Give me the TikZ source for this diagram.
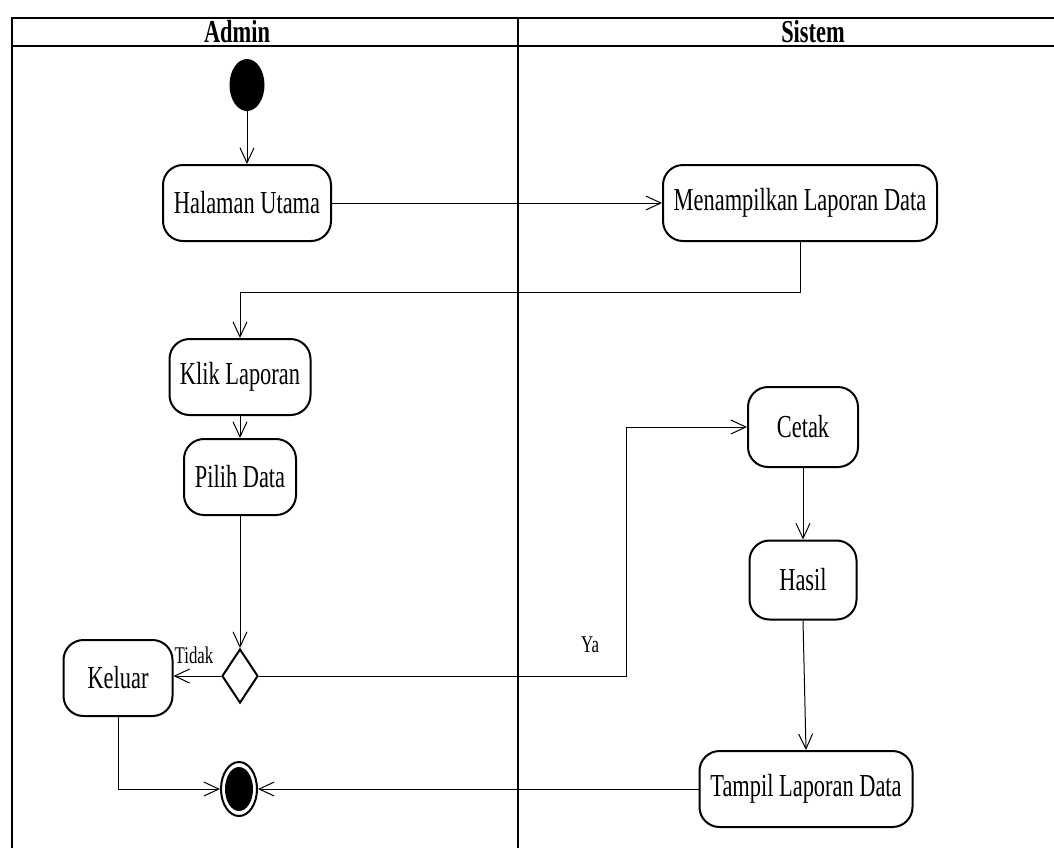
\documentclass[tikz,border=0pt]{standalone}
\usepackage{fontspec}
\setmainfont[FakeStretch=0.7]{Liberation Serif}
\usetikzlibrary{arrows.meta,shapes.geometric}
\tikzset{>={Straight Barb[length=7.5pt,width=7pt]},every node/.style={font=\fontsize{16}{19}\selectfont},act/.style={draw,line width=1pt,rounded corners=10pt,minimum height=38pt,inner xsep=3pt},flow/.style={->,line width=.5pt},lane/.style={line width=1pt},lbl/.style={font=\fontsize{12}{14}\selectfont},head/.style={font=\fontsize{16}{19}\selectfont\bfseries,anchor=base,inner sep=0}}
\begin{document}
\begin{tikzpicture}[x=.5pt,y=-.5pt]
\useasboundingbox (0,0) rectangle (1054,848);
% swimlanes
\draw[lane] (12,848)--(12,18)--(1054,18);\draw[line width=1.3pt] (12,46)--(1054,46);\draw[lane] (518,18)--(518,848);
\node[head] (admin) at (237,42){Admin};\node[head] (sistem) at (813,42){Sistem};
% nodes
\node[ellipse,fill,minimum width=17.5pt,minimum height=26pt,inner sep=0] (start) at (247,85){};
\node[act,minimum width=84pt] (hal) at (247,203){Halaman Utama};
\node[act,minimum width=137pt] (men) at (800,203){Menampilkan Laporan Data};
\node[act,minimum width=70.5pt] (klik) at (240,377){Klik Laporan};
\node[act,minimum width=56pt] (pilih) at (240,477){Pilih Data};
\node[diamond,draw,line width=1pt,minimum width=18pt,minimum height=27pt,inner sep=0,aspect=.67] (dec) at (240,676){};
\node[act,minimum width=54.5pt] (kel) at (118,678){Keluar};
\node[act,minimum width=55pt,minimum height=40pt] (cetak) at (803,427){Cetak};
\node[act,minimum width=53.5pt,minimum height=39.5pt] (hasil) at (803,580){Hasil};
\node[act,minimum width=106.5pt] (tampil) at (806,789){Tampil Laporan Data};
\node[ellipse,draw,line width=1pt,minimum width=18pt,minimum height=27pt,inner sep=0] (end) at (239,789){};\fill (end.center) ellipse (7pt and 11pt);
\node[lbl] (tidak) at (194,655){Tidak};\node[lbl] (ya) at (590,645){Ya};
\coordinate (yaturn) at (626,427);
% connectors
\draw[flow] (start)--(hal);\draw[flow] (hal)--(men);
\draw[flow] (men.south)--++(0,50)-|(klik.north);
\draw[flow] (klik)--(pilih);\draw[flow] (pilih)--(dec);\draw[flow] (dec)--(dec-|kel.east);
\draw[flow] (dec.east)-|(yaturn)--(cetak.west);
\draw[flow] (cetak)--(hasil);\draw[flow] (hasil.south)--(tampil.north);
\draw[flow] (tampil)--(end);\draw[flow] (kel.south)|-(end);
\end{tikzpicture}
\end{document}
